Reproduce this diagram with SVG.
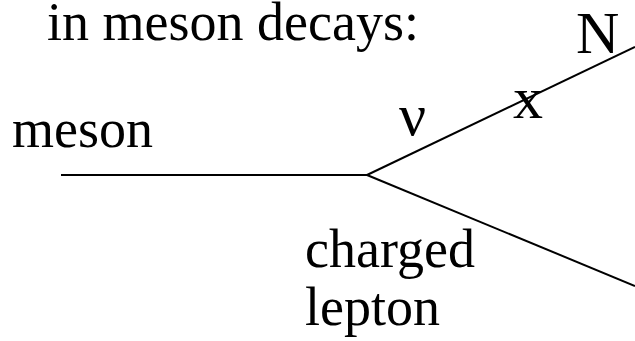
<svg xmlns="http://www.w3.org/2000/svg" width="635" height="341" viewBox="0 0 635 341">
<style>
text{font-family:"Liberation Serif","Times New Roman",serif;fill:#000}
.t54{font-size:54px}
.t60{font-size:60px}
.ln{stroke:#000;stroke-width:2;fill:none}
</style>
<rect width="635" height="341" fill="#fff"/>
<g id="title"><text class="t54" x="47" y="40">in meson decays:</text></g>
<g id="connectors">
<line class="ln" x1="61" y1="175" x2="367" y2="175"/>
<line class="ln" x1="367" y1="175" x2="635" y2="47"/>
<line class="ln" x1="367" y1="175" x2="635" y2="286"/>
</g>
<g id="meson"><text class="t54" x="12" y="147">meson</text></g>
<g id="nu"><text class="t60" x="399" y="135">ν</text></g>
<g id="mix"><text class="t60" x="513" y="118">x</text></g>
<g id="N"><text class="t60" x="576" y="53">N</text></g>
<g id="lepton"><text class="t54" x="305" y="267">charged</text><text class="t54" x="305" y="325">lepton</text></g>
</svg>
